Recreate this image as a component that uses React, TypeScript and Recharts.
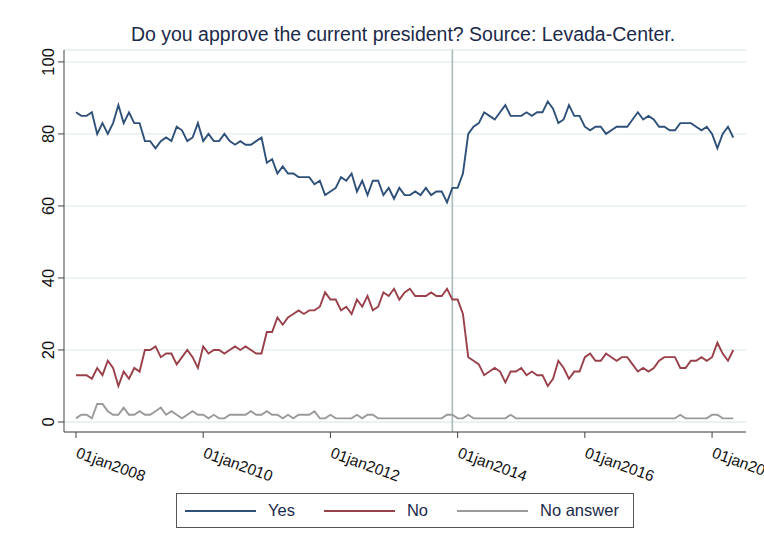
import { LineChart, Line, XAxis, YAxis, CartesianGrid, ReferenceLine } from "recharts"

// monthly values, Jan 2008 .. May 2018 (index 0 = Jan 2008)
const yesValues = [
    86, 85, 85, 86, 80, 83, 80, 83, 88, 83, 86, 83,
    83, 78, 78, 76, 78, 79, 78, 82, 81, 78, 79, 83,
    78, 80, 78, 78, 80, 78, 77, 78, 77, 77, 78, 79,
    72, 73, 69, 71, 69, 69, 68, 68, 68, 66, 67, 63,
    64, 65, 68, 67, 69, 64, 67, 63, 67, 67, 63, 65,
    62, 65, 63, 63, 64, 63, 65, 63, 64, 64, 61, 65,
    65, 69, 80, 82, 83, 86, 85, 84, 86, 88, 85, 85,
    85, 86, 85, 86, 86, 89, 87, 83, 84, 88, 85, 85,
    82, 81, 82, 82, 80, 81, 82, 82, 82, 84, 86, 84,
    85, 84, 82, 82, 81, 81, 83, 83, 83, 82, 81, 82,
    80, 76, 80, 82, 79,
]

const noValues = [
    13, 13, 13, 12, 15, 13, 17, 15, 10, 14, 12, 15,
    14, 20, 20, 21, 18, 19, 19, 16, 18, 20, 18, 15,
    21, 19, 20, 20, 19, 20, 21, 20, 21, 20, 19, 19,
    25, 25, 29, 27, 29, 30, 31, 30, 31, 31, 32, 36,
    34, 34, 31, 32, 30, 34, 32, 35, 31, 32, 36, 35,
    37, 34, 36, 37, 35, 35, 35, 36, 35, 35, 37, 34,
    34, 30, 18, 17, 16, 13, 14, 15, 14, 11, 14, 14,
    15, 13, 14, 13, 13, 10, 12, 17, 15, 12, 14, 14,
    18, 19, 17, 17, 19, 18, 17, 18, 18, 16, 14, 15,
    14, 15, 17, 18, 18, 18, 15, 15, 17, 17, 18, 17,
    18, 22, 19, 17, 20,
]

const noAnswerValues = [
    1, 2, 2, 1, 5, 5, 3, 2, 2, 4, 2, 2,
    3, 2, 2, 3, 4, 2, 3, 2, 1, 2, 3, 2,
    2, 1, 2, 1, 1, 2, 2, 2, 2, 3, 2, 2,
    3, 2, 2, 1, 2, 1, 2, 2, 2, 3, 1, 1,
    2, 1, 1, 1, 1, 2, 1, 2, 2, 1, 1, 1,
    1, 1, 1, 1, 1, 1, 1, 1, 1, 1, 2, 2,
    1, 1, 2, 1, 1, 1, 1, 1, 1, 1, 2, 1,
    1, 1, 1, 1, 1, 1, 1, 1, 1, 1, 1, 1,
    1, 1, 1, 1, 1, 1, 1, 1, 1, 1, 1, 1,
    1, 1, 1, 1, 1, 1, 2, 1, 1, 1, 1, 1,
    2, 2, 1, 1, 1,
]

const xTickMonths = [0, 24, 48, 72, 96, 120]
const xTickLabels = ["01jan2008", "01jan2010", "01jan2012", "01jan2014", "01jan2016", "01jan2018"]
const yTicks = [0, 20, 40, 60, 80, 100]
const markerMonth = 71 // Dec 2013

const data = yesValues.map((v, i) => ({
    m: i,
    yes: v,
    no: noValues[i],
    noAnswer: noAnswerValues[i],
}))

const FONT = "'Liberation Sans', Arial, Helvetica, sans-serif"
const TEXT = "#1c2a4a"
const YES = "#2e5079"
const NO = "#99404a"
const NA = "#9a9a9a"

function XTick({ x, y, payload }: any) {
    const i = xTickMonths.indexOf(payload.value)
    const tx = x - 1
    const ty = y + 17
    return (
        <text x={tx} y={ty} transform={`rotate(20 ${tx} ${ty})`} textAnchor="start"
            fontSize={15.5} fontFamily={FONT} fill="#111">
            {xTickLabels[i]}
        </text>
    )
}

function YTick({ x, y, payload }: any) {
    const tx = x - 2
    return (
        <text x={tx} y={y} transform={`rotate(-90 ${tx} ${y})`} textAnchor="middle"
            fontSize={16.5} fontFamily={FONT} fill="#111">
            {payload.value}
        </text>
    )
}

function LegendItem({ color, label }: { color: string; label: string }) {
    return (
        <div style={{ display: "flex", alignItems: "center", flexShrink: 0, whiteSpace: "nowrap" }}>
            <div style={{ width: 71, height: 2, background: color }} />
            <span style={{ marginLeft: 12, marginRight: 29 }}>{label}</span>
        </div>
    )
}

export default function App() {
    return (
        <div style={{ position: "absolute", left: 0, top: 0, width: 764, height: 551, overflow: "hidden", background: "#fff", fontFamily: FONT }}>
            <div style={{ position: "absolute", top: 23, left: 0, width: 806, textAlign: "center", fontSize: 19.5, color: TEXT, whiteSpace: "nowrap" }}>
                Do you approve the current president? Source: Levada-Center.
            </div>

            <LineChart width={764} height={551} data={data}
                margin={{ top: 50, right: 18, bottom: 59, left: 20 }}>
                <CartesianGrid horizontal vertical={false} stroke="#e4eded" strokeWidth={1.3} />
                <XAxis
                    dataKey="m"
                    type="number"
                    domain={[-2.26, 126.4]}
                    allowDataOverflow
                    ticks={xTickMonths}
                    interval={0}
                    height={60}
                    tick={<XTick />}
                    tickSize={6}
                    stroke="#444"
                />
                <YAxis
                    type="number"
                    domain={[-2.78, 103.3]}
                    allowDataOverflow
                    ticks={yTicks}
                    interval={0}
                    width={44}
                    tick={<YTick />}
                    tickSize={6}
                    stroke="#444"
                />
                <ReferenceLine x={markerMonth} stroke="#a9baba" strokeWidth={1.6} />
                <Line dataKey="yes" stroke={YES} strokeWidth={1.9} dot={false} isAnimationActive={false} />
                <Line dataKey="no" stroke={NO} strokeWidth={1.9} dot={false} isAnimationActive={false} />
                <Line dataKey="noAnswer" stroke={NA} strokeWidth={1.9} dot={false} isAnimationActive={false} />
            </LineChart>

            <div style={{
                position: "absolute", left: 176, top: 493, width: 458, height: 35,
                border: "1px solid #555", boxSizing: "border-box",
                display: "flex", alignItems: "center", paddingLeft: 8,
                fontSize: 16.5, color: TEXT, whiteSpace: "nowrap", overflow: "hidden",
            }}>
                <LegendItem color={YES} label="Yes" />
                <LegendItem color={NO} label="No" />
                <LegendItem color={NA} label="No answer" />
            </div>
        </div>
    )
}
